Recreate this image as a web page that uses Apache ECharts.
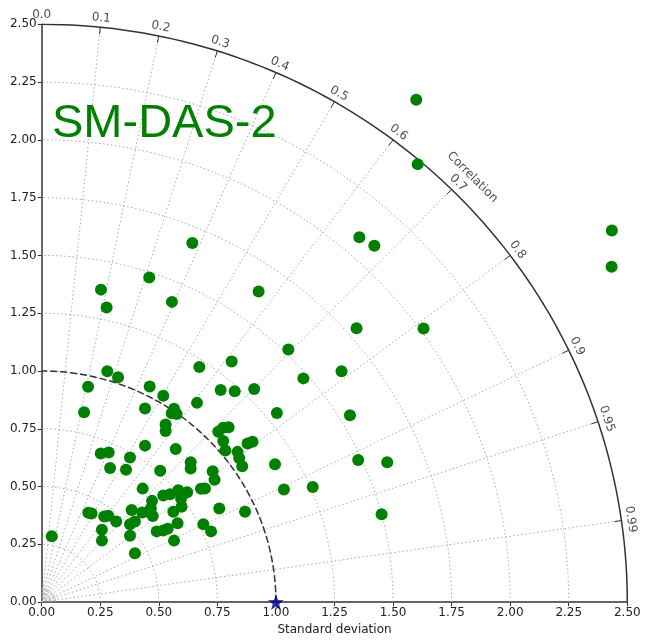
<!DOCTYPE html>
<html>
<head>
<meta charset="utf-8">
<script src="https://cdn.jsdelivr.net/npm/echarts@6/dist/echarts.min.js"></script>
<style>
  html, body { margin: 0; padding: 0; background: #fff; }
  #main { width: 645px; height: 641px; }
</style>
</head>
<body>
<div id="main"></div>
<script>
// axis ticks
var stdTicks = [0, 0.25, 0.5, 0.75, 1.0, 1.25, 1.5, 1.75, 2.0, 2.25, 2.5];
var corrTicks = [0.0, 0.1, 0.2, 0.3, 0.4, 0.5, 0.6, 0.7, 0.8, 0.9, 0.95, 0.99];
var corrLabels = ['0.0', '0.1', '0.2', '0.3', '0.4', '0.5', '0.6', '0.7', '0.8', '0.9', '0.95', '0.99'];
var stdMax = 2.5;
var refStd = 1.0;
var title = 'SM-DAS-2';

// model points: [x, y] in standard-deviation units (x = std*corr, y = std*sin)
var models = [
  [0.643, 1.554], [0.459, 1.404], [0.253, 1.352], [0.277, 1.275], [0.556, 1.299],
  [0.926, 1.344], [1.599, 2.174], [1.605, 1.895], [1.356, 1.579], [1.420, 1.542],
  [2.434, 1.608], [2.433, 1.451], [1.344, 1.185], [1.630, 1.184], [1.280, 0.999],
  [1.316, 0.808], [1.351, 0.615], [1.475, 0.605], [1.451, 0.380],
  [1.053, 1.093], [1.117, 0.968], [0.280, 0.999], [0.326, 0.973], [0.198, 0.932],
  [0.181, 0.821], [0.461, 0.933], [0.519, 0.893], [0.673, 1.017], [0.811, 1.041],
  [0.764, 0.918], [0.824, 0.912], [0.907, 0.922], [0.441, 0.838], [0.565, 0.837],
  [0.555, 0.817], [0.576, 0.814], [0.663, 0.862], [1.004, 0.818], [0.529, 0.768],
  [0.529, 0.740], [0.754, 0.737], [0.775, 0.754], [0.798, 0.757], [0.775, 0.697],
  [0.784, 0.656], [0.879, 0.686], [0.900, 0.694], [0.836, 0.650], [0.843, 0.623],
  [0.856, 0.588], [0.996, 0.596], [0.252, 0.643], [0.286, 0.647], [0.377, 0.626],
  [0.441, 0.677], [0.572, 0.662], [0.292, 0.580], [0.360, 0.573], [0.506, 0.568],
  [0.636, 0.605], [0.636, 0.578], [0.730, 0.566], [0.738, 0.529], [0.680, 0.490],
  [0.697, 0.492], [0.431, 0.491], [0.519, 0.461], [0.548, 0.467], [0.583, 0.484],
  [0.621, 0.475], [0.595, 0.448], [0.597, 0.413], [0.562, 0.391], [0.471, 0.438],
  [0.466, 0.405], [0.455, 0.391], [0.474, 0.373], [0.384, 0.398], [0.429, 0.388],
  [0.398, 0.349], [0.377, 0.337], [0.318, 0.349], [0.284, 0.374], [0.267, 0.370],
  [0.199, 0.387], [0.213, 0.383], [0.257, 0.313], [0.257, 0.266], [0.377, 0.287],
  [0.398, 0.211], [0.043, 0.285], [0.491, 0.306], [0.519, 0.310], [0.538, 0.317],
  [0.580, 0.341], [0.565, 0.266], [0.690, 0.337], [0.723, 0.306], [0.758, 0.405],
  [0.868, 0.391], [1.034, 0.487], [1.157, 0.498]
];

// reference point
var reference = [[refStd, 0]];

function arc(r) {
  var pts = [];
  for (var d = 0; d <= 90; d += 1) {
    var a = d * Math.PI / 180;
    pts.push([r * Math.cos(a), r * Math.sin(a)]);
  }
  return pts;
}
function ray(c, r0, r1) {
  var a = Math.acos(c);
  return [[r0 * Math.cos(a), r0 * Math.sin(a)], [r1 * Math.cos(a), r1 * Math.sin(a)]];
}

var series = [];
var dotted = { color: '#aaa', width: 1, type: [1.5, 2.5] };

// std arcs
stdTicks.forEach(function (r) {
  if (r <= 0 || r >= stdMax) return;
  series.push({ type: 'line', data: arc(r), showSymbol: false, silent: true,
    lineStyle: dotted, z: 1 });
});
// small arcs near origin
[0.02, 0.03, 0.04, 0.05, 0.06].forEach(function (r) {
  series.push({ type: 'line', data: arc(r), showSymbol: false, silent: true,
    lineStyle: { color: '#bbb', width: 0.8 }, z: 1 });
});
// correlation rays
corrTicks.forEach(function (c) {
  if (c <= 0) return;
  series.push({ type: 'line', data: ray(c, 0, stdMax), showSymbol: false, silent: true,
    lineStyle: dotted, z: 1 });
  series.push({ type: 'line', data: ray(c, stdMax - 0.03, stdMax), showSymbol: false, silent: true,
    lineStyle: { color: '#333', width: 1 }, z: 2 });
});
// outer arc
series.push({ type: 'line', data: arc(stdMax), showSymbol: false, silent: true,
  lineStyle: { color: '#333', width: 1.5 }, z: 2 });
// reference std arc
series.push({ type: 'line', data: arc(refStd), showSymbol: false, silent: true,
  lineStyle: { color: '#333', width: 1.5, type: [7, 3] }, z: 2 });

// correlation labels
series.push({
  type: 'scatter', symbolSize: 0, silent: true, z: 3, clip: false,
  label: { show: true, position: 'inside', formatter: '{b}', color: '#222',
    fontSize: 12, fontFamily: 'DejaVu Sans' },
  data: corrTicks.map(function (c, i) {
    var a = Math.acos(c), r = stdMax + 0.04;
    return { name: corrLabels[i], value: [r * Math.cos(a), r * Math.sin(a)],
      label: { rotate: a * 180 / Math.PI - 90 } };
  })
});
// "Correlation" axis title
series.push({
  type: 'scatter', symbolSize: 0, silent: true, z: 3, clip: false,
  label: { show: true, position: 'inside', formatter: '{b}', color: '#222',
    fontSize: 12, fontFamily: 'DejaVu Sans' },
  data: [{ name: 'Correlation', value: [2.6 * Math.cos(Math.PI / 4), 2.6 * Math.sin(Math.PI / 4)],
    label: { rotate: -45 } }]
});

// models
series.push({ type: 'scatter', data: models, symbol: 'circle', symbolSize: 12,
  itemStyle: { color: '#008000', opacity: 1 }, z: 5 });
// reference star
series.push({ type: 'scatter', data: reference, symbol: 'path://M0,-10 L2.35,-3.24 L9.51,-3.09 L3.8,1.24 L5.88,8.09 L0,4 L-5.88,8.09 L-3.8,1.24 L-9.51,-3.09 L-2.35,-3.24 Z',
  symbolSize: 16, itemStyle: { color: '#00008b' }, z: 6, clip: false });

var chart = echarts.init(document.getElementById('main'));
var axisCommon = {
  type: 'value', min: 0, max: stdMax, interval: 0.25,
  axisLine: { show: true, onZero: false, lineStyle: { color: '#333', width: 1.5 } },
  axisTick: { show: true, inside: false, length: 4, lineStyle: { color: '#333' } },
  axisLabel: { color: '#222', fontSize: 12, fontFamily: 'DejaVu Sans', margin: 5,
    formatter: function (v) { return v.toFixed(2); } },
  splitLine: { show: false }
};
chart.setOption({
  animation: false,
  backgroundColor: '#fff',
  title: {
    text: title, left: 47, top: 96,
    textStyle: { color: '#008000', fontSize: 47, fontWeight: 'normal', fontFamily: 'Liberation Sans' }
  },
  grid: { left: 41.7, top: 24.3, right: 17.7, bottom: 31 },
  xAxis: Object.assign({}, axisCommon, {
    name: 'Standard deviation', nameLocation: 'middle', nameGap: 20,
    nameTextStyle: { color: '#222', fontSize: 12, fontFamily: 'DejaVu Sans' }
  }),
  yAxis: Object.assign({}, axisCommon),
  series: series
});
</script>
</body>
</html>
